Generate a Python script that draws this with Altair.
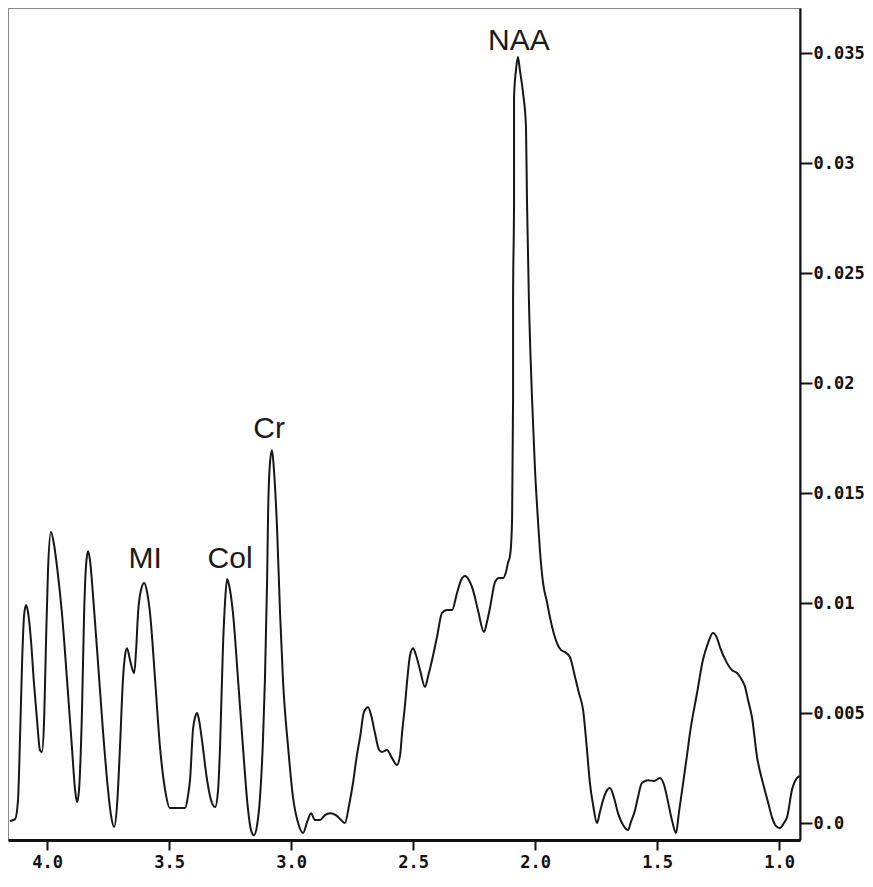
import altair as alt
import pandas as pd

# Spectrum trace (chemical shift in ppm, intensity)
ppm = [4.152, 4.131, 4.119, 4.111, 4.102, 4.094, 4.086, 4.078, 4.066, 4.053,
       4.041, 4.029, 4.021, 4.012, 4.004, 3.996, 3.984, 3.971, 3.959, 3.939,
       3.918, 3.898, 3.885, 3.877, 3.869, 3.857, 3.848, 3.840, 3.832, 3.824,
       3.811, 3.791, 3.771, 3.750, 3.738, 3.725, 3.713, 3.701, 3.689, 3.680,
       3.672, 3.660, 3.643, 3.635, 3.627, 3.615, 3.602, 3.590, 3.578, 3.557,
       3.537, 3.516, 3.496, 3.463, 3.434, 3.422, 3.414, 3.402, 3.393, 3.385,
       3.377, 3.365, 3.344, 3.328, 3.311, 3.299, 3.291, 3.279, 3.270, 3.262,
       3.254, 3.238, 3.217, 3.197, 3.176, 3.164, 3.152, 3.139, 3.127, 3.115,
       3.107, 3.098, 3.094, 3.086, 3.078, 3.070, 3.057, 3.045, 3.033, 3.012,
       2.992, 2.971, 2.951, 2.934, 2.918, 2.902, 2.881, 2.861, 2.840, 2.816,
       2.795, 2.779, 2.762, 2.746, 2.730, 2.717, 2.701, 2.684, 2.672, 2.656,
       2.639, 2.627, 2.607, 2.586, 2.566, 2.553, 2.545, 2.533, 2.525, 2.512,
       2.500, 2.488, 2.471, 2.451, 2.439, 2.422, 2.402, 2.381, 2.361, 2.340,
       2.320, 2.303, 2.287, 2.271, 2.254, 2.234, 2.209, 2.197, 2.184, 2.164,
       2.148, 2.131, 2.119, 2.111, 2.102, 2.094, 2.090, 2.090, 2.086, 2.086,
       2.078, 2.070, 2.062, 2.049, 2.037, 2.033, 2.025, 2.012, 2.000, 1.988,
       1.980, 1.967, 1.951, 1.939, 1.910, 1.893, 1.877, 1.857, 1.836, 1.820,
       1.803, 1.787, 1.775, 1.762, 1.746, 1.734, 1.721, 1.709, 1.693, 1.676,
       1.660, 1.639, 1.619, 1.607, 1.590, 1.578, 1.562, 1.537, 1.512, 1.488,
       1.471, 1.459, 1.439, 1.422, 1.410, 1.393, 1.377, 1.365, 1.336, 1.312,
       1.291, 1.271, 1.254, 1.242, 1.213, 1.193, 1.172, 1.152, 1.139, 1.127,
       1.111, 1.090, 1.066, 1.045, 1.029, 1.012, 0.996, 0.980, 0.967, 0.947,
       0.926, 0.914]

intensity = [0.00009, 0.00018, 0.00105, 0.00377, 0.00741, 0.00945, 0.00991, 0.00959, 0.00832, 0.00627,
             0.00468, 0.00332, 0.00323, 0.00468, 0.00832, 0.01150, 0.01323, 0.01264, 0.01164, 0.00955,
             0.00650, 0.00345, 0.00150, 0.00095, 0.00150, 0.00500, 0.00955, 0.01173, 0.01236, 0.01195,
             0.01027, 0.00727, 0.00423, 0.00150, 0.00036, -0.00018, 0.00082, 0.00345, 0.00650, 0.00764,
             0.00795, 0.00741, 0.00682, 0.00786, 0.00955, 0.01059, 0.01091, 0.01050, 0.00955, 0.00650,
             0.00345, 0.00150, 0.00068, 0.00068, 0.00068, 0.00127, 0.00195, 0.00423, 0.00482, 0.00500,
             0.00468, 0.00377, 0.00195, 0.00105, 0.00073, 0.00150, 0.00345, 0.00800, 0.01014, 0.01109,
             0.01082, 0.00955, 0.00650, 0.00345, 0.00059, -0.00032, -0.00055, -0.00009, 0.00118, 0.00377,
             0.00650, 0.01105, 0.01409, 0.01641, 0.01695, 0.01605, 0.01332, 0.00955, 0.00650, 0.00345,
             0.00118, 0.00000, -0.00045, 0.00005, 0.00045, 0.00014, 0.00014, 0.00036, 0.00045, 0.00036,
             0.00014, 0.00000, 0.00082, 0.00182, 0.00309, 0.00391, 0.00505, 0.00527, 0.00491, 0.00409,
             0.00332, 0.00323, 0.00332, 0.00295, 0.00264, 0.00309, 0.00409, 0.00536, 0.00636, 0.00764,
             0.00795, 0.00764, 0.00695, 0.00618, 0.00664, 0.00741, 0.00845, 0.00955, 0.00968, 0.00968,
             0.01045, 0.01105, 0.01123, 0.01105, 0.01059, 0.00968, 0.00868, 0.00914, 0.00982, 0.01095,
             0.01114, 0.01114, 0.01141, 0.01182, 0.01218, 0.01377, 0.01923, 0.02377, 0.02832, 0.03300,
             0.03423, 0.03482, 0.03423, 0.03318, 0.03164, 0.02832, 0.02377, 0.01923, 0.01605, 0.01377,
             0.01241, 0.01091, 0.01005, 0.00936, 0.00818, 0.00786, 0.00777, 0.00755, 0.00664, 0.00591,
             0.00514, 0.00332, 0.00182, 0.00082, 0.00000, 0.00050, 0.00105, 0.00141, 0.00159, 0.00114,
             0.00045, -0.00009, -0.00032, 0.00005, 0.00059, 0.00118, 0.00182, 0.00195, 0.00191, 0.00205,
             0.00173, 0.00118, 0.00014, -0.00045, 0.00050, 0.00182, 0.00309, 0.00409, 0.00591, 0.00741,
             0.00818, 0.00864, 0.00841, 0.00800, 0.00727, 0.00695, 0.00682, 0.00650, 0.00618, 0.00559,
             0.00482, 0.00300, 0.00182, 0.00095, 0.00027, -0.00014, -0.00023, 0.00000, 0.00027, 0.00150,
             0.00205, 0.00214]

# Peak labels
label_names = ["NAA", "Cr", "Col", "MI"]
label_ppm = [2.066, 3.090, 3.250, 3.598]
label_int = [0.03514, 0.01750, 0.01159, 0.01159]

x_ticks = [4.0, 3.5, 3.0, 2.5, 2.0, 1.5, 1.0]
y_ticks = [0.0, 0.005, 0.01, 0.015, 0.02, 0.025, 0.03, 0.035]

spec = pd.DataFrame({"i": list(range(len(ppm))), "ppm": ppm, "intensity": intensity})
labels = pd.DataFrame({"name": label_names, "ppm": label_ppm, "intensity": label_int})

xscale = alt.Scale(domain=[0.914, 4.16], reverse=True, nice=False, zero=False)
yscale = alt.Scale(domain=[-0.00077, 0.03705], nice=False, zero=False)

line = alt.Chart(spec).mark_line(
    color="#161616", strokeWidth=2, interpolate="monotone", clip=True
).encode(
    x=alt.X("ppm:Q", scale=xscale,
            axis=alt.Axis(values=x_ticks, format=".1f", title=None, orient="bottom",
                          grid=False, domainColor="#111", domainWidth=3,
                          tickColor="#111", tickWidth=2, tickSize=10,
                          labelFont="DejaVu Sans Mono", labelFontWeight="bold",
                          labelFontSize=17, labelColor="#111", labelPadding=4)),
    y=alt.Y("intensity:Q", scale=yscale,
            axis=alt.Axis(values=y_ticks, title=None, orient="right", grid=False,
                          labelExpr="datum.value == 0 ? '0.0' : format(datum.value, '~g')",
                          domainColor="#111", domainWidth=2,
                          tickColor="#111", tickWidth=2, tickSize=12,
                          labelFont="DejaVu Sans Mono", labelFontWeight="bold",
                          labelFontSize=17, labelColor="#111", labelPadding=1,
                          labelBaseline="middle")),
    order="i:Q",
)

text = alt.Chart(labels).mark_text(
    font="Liberation Sans", fontSize=30, baseline="alphabetic", align="center",
    color="#1a1a1a"
).encode(
    x=alt.X("ppm:Q", scale=xscale),
    y=alt.Y("intensity:Q", scale=yscale),
    text="name:N",
)

chart = alt.layer(line, text).properties(
    width=792, height=832, padding=0
).configure_view(
    stroke="#8a8a8a", strokeWidth=2
)

chart.save("out.html", embed_options={"renderer": "svg", "actions": False})
